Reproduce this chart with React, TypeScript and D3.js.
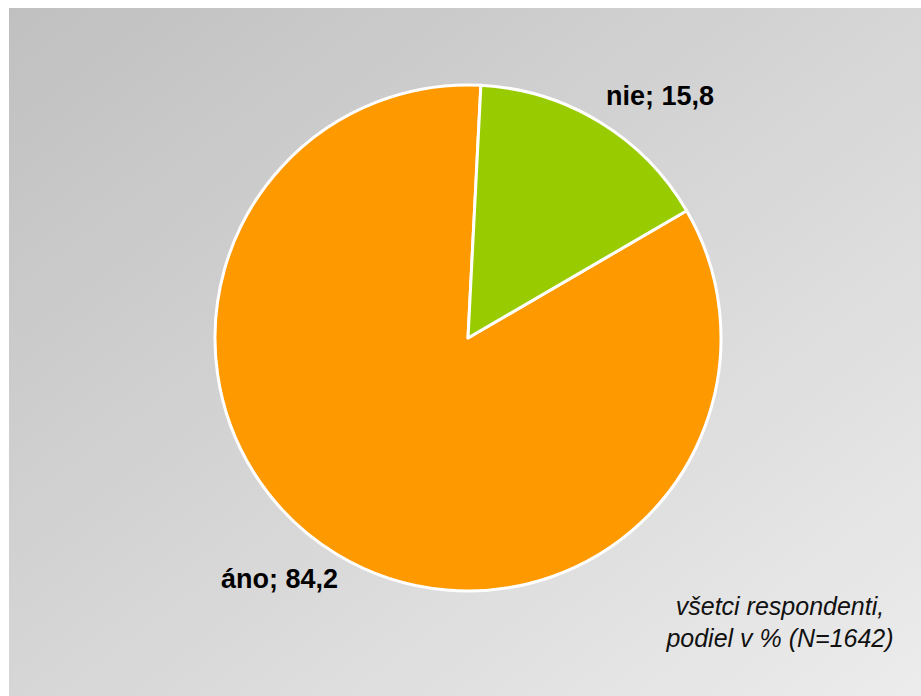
import * as d3 from 'd3';
import { useEffect, useRef } from 'react';

const categories = ['áno', 'nie'];
const values = [84.2, 15.8];
const colors = ['#ff9900', '#99cc00'];
const captionLines = ['všetci respondenti,', 'podiel v % (N=1642)'];

const App = () => {
  const svgRef = useRef<SVGSVGElement | null>(null);

  useEffect(() => {
    const width = 921;
    const height = 696;
    const cx = 468;
    const cy = 338;
    const radius = 253;

    const svg = d3.select(svgRef.current)
      .attr('width', width)
      .attr('height', height);

    svg.selectAll('*').remove();

    // background gradient
    const defs = svg.append('defs');
    const grad = defs.append('linearGradient')
      .attr('id', 'bg')
      .attr('x1', '0%').attr('y1', '0%')
      .attr('x2', '100%').attr('y2', '100%');
    grad.append('stop').attr('offset', '0%').attr('stop-color', '#c0c0c0');
    grad.append('stop').attr('offset', '100%').attr('stop-color', '#ececec');

    svg.append('rect')
      .attr('x', 9)
      .attr('y', 8)
      .attr('width', width - 9)
      .attr('height', height - 8)
      .attr('fill', 'url(#bg)');

    const data = categories.map((c, i) => ({ label: c, value: values[i], color: colors[i] }));

    // orange slice starts where green one ends (~60deg clockwise from top)
    const start = (59.8 * Math.PI) / 180;
    const pie = d3.pie<{ label: string; value: number; color: string }>()
      .sort(null)
      .value((d) => d.value)
      .startAngle(start)
      .endAngle(start + 2 * Math.PI);

    const arc = d3.arc<d3.PieArcDatum<{ label: string; value: number; color: string }>>()
      .innerRadius(0)
      .outerRadius(radius);

    const g = svg.append('g').attr('transform', `translate(${cx},${cy})`);

    g.selectAll('path')
      .data(pie(data))
      .join('path')
      .attr('d', arc)
      .attr('fill', (d) => d.data.color)
      .attr('stroke', '#ffffff')
      .attr('stroke-width', 3)
      .attr('stroke-linejoin', 'round');

    // data labels
    const labelPos: Record<string, [number, number]> = {
      'áno': [221, 588],
      'nie': [606, 105],
    };
    data.forEach((d) => {
      svg.append('text')
        .attr('x', labelPos[d.label][0])
        .attr('y', labelPos[d.label][1])
        .attr('font-family', 'Liberation Sans, Arial, sans-serif')
        .attr('font-weight', 'bold')
        .attr('font-size', 27)
        .attr('fill', '#000')
        .text(`${d.label}; ${d3.format('.1f')(d.value).replace('.', ',')}`);
    });

    // caption
    svg.append('g')
      .selectAll('text')
      .data(captionLines)
      .join('text')
      .attr('x', 780)
      .attr('y', (_d, i) => 615 + i * 32)
      .attr('text-anchor', 'middle')
      .attr('font-family', 'Liberation Sans, Arial, sans-serif')
      .attr('font-style', 'italic')
      .attr('font-size', 25)
      .attr('fill', '#111')
      .text((d) => d);
  }, []);

  return <svg ref={svgRef} style={{ position: 'absolute', left: 0, top: 0 }}></svg>;
};

export default App;
